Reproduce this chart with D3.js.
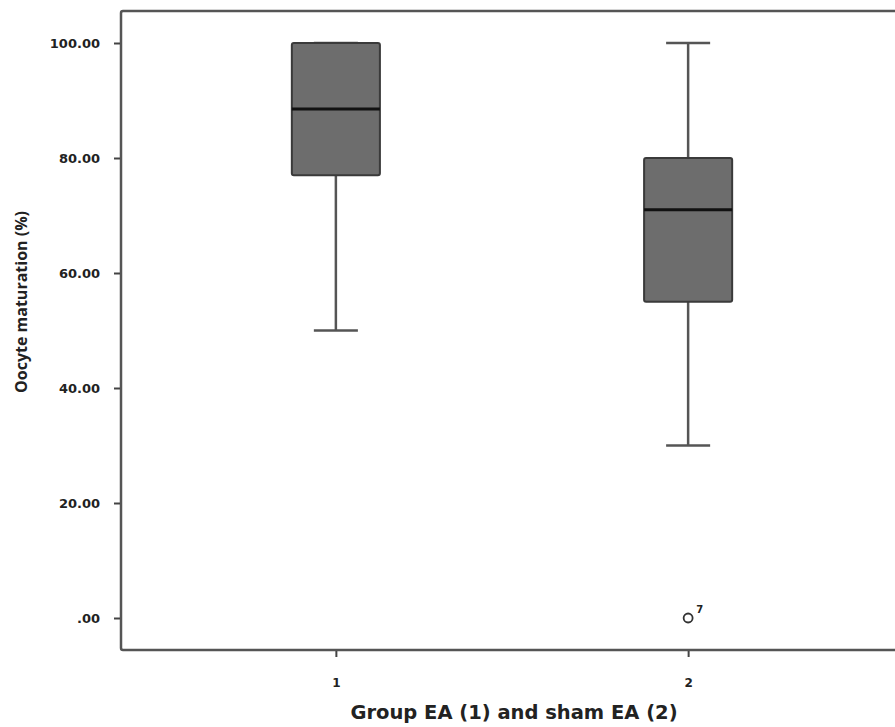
<!DOCTYPE html>
<html>
<head>
<meta charset="utf-8">
<script src="https://cdn.jsdelivr.net/npm/d3@7"></script>
<style>
  body { margin: 0; background: #fff; }
  svg { display: block; }
</style>
</head>
<body>
<div id="chart"></div>
<script>
// box plot values (percent)
var groups = ["1", "2"];
var whiskerLow = [50, 30];
var q1 = [77, 55];
var median = [88.5, 71];
var q3 = [100, 80];
var whiskerHigh = [100, 100];
var outlierGroup = ["2"];
var outlierValue = [0];
var outlierLabel = ["7"];
var yTicks = [0, 20, 40, 60, 80, 100];

var width = 895, height = 727;
var frame = {left: 121, right: 903, top: 11, bottom: 650};

var svg = d3.select("#chart").append("svg")
    .attr("width", width)
    .attr("height", height);

var x = d3.scalePoint()
    .domain(groups)
    .range([frame.left, frame.right])
    .padding(0.61);

var y = d3.scaleLinear()
    .domain([-5.565, 105.565])
    .range([frame.bottom, frame.top]);

var boxW = x.step() * 0.25;
var capW = boxW / 2;

// frame
svg.append("rect")
    .attr("x", frame.left)
    .attr("y", frame.top)
    .attr("width", frame.right - frame.left)
    .attr("height", frame.bottom - frame.top)
    .attr("rx", 2)
    .style("fill", "none")
    .style("stroke", "#555")
    .style("stroke-width", 2.5);

// y axis
var yAxis = d3.axisLeft(y)
    .tickValues(yTicks)
    .tickSize(6)
    .tickPadding(14)
    .tickFormat(function(d) { return d === 0 ? ".00" : d.toFixed(2); });

var gy = svg.append("g")
    .attr("transform", "translate(" + (frame.left - 1) + ",0)")
    .call(yAxis);
gy.select(".domain").remove();
gy.selectAll("line").style("stroke", "#444").style("stroke-width", 2);
gy.selectAll("text")
    .style("font-family", "DejaVu Sans")
    .style("font-weight", "bold")
    .style("font-size", "13px")
    .style("fill", "#222");

// x axis
var xAxis = d3.axisBottom(x).tickSize(6).tickPadding(21);
var gx = svg.append("g")
    .attr("transform", "translate(0," + (frame.bottom + 1) + ")")
    .call(xAxis);
gx.select(".domain").remove();
gx.selectAll("line").style("stroke", "#444").style("stroke-width", 2);
gx.selectAll("text")
    .style("font-family", "DejaVu Sans")
    .style("font-weight", "bold")
    .style("font-size", "12px")
    .style("fill", "#222");

// whiskers and boxes
var bx = svg.append("g").attr("class", "boxes");
groups.forEach(function(g, i) {
    var cx = x(g);
    bx.append("line")
        .attr("x1", cx).attr("x2", cx)
        .attr("y1", y(whiskerLow[i])).attr("y2", y(q1[i]))
        .style("stroke", "#555").style("stroke-width", 2.5);
    bx.append("line")
        .attr("x1", cx).attr("x2", cx)
        .attr("y1", y(whiskerHigh[i])).attr("y2", y(q3[i]))
        .style("stroke", "#555").style("stroke-width", 2.5);
    [whiskerLow[i], whiskerHigh[i]].forEach(function(v) {
        bx.append("line")
            .attr("x1", cx - capW / 2).attr("x2", cx + capW / 2)
            .attr("y1", y(v)).attr("y2", y(v))
            .style("stroke", "#555").style("stroke-width", 2.5);
    });
    bx.append("rect")
        .attr("x", cx - boxW / 2)
        .attr("y", y(q3[i]))
        .attr("width", boxW)
        .attr("height", y(q1[i]) - y(q3[i]))
        .attr("rx", 2)
        .style("fill", "#6d6d6d")
        .style("stroke", "#3a3a3a")
        .style("stroke-width", 2);
    bx.append("line")
        .attr("x1", cx - boxW / 2).attr("x2", cx + boxW / 2)
        .attr("y1", y(median[i])).attr("y2", y(median[i]))
        .style("stroke", "#111").style("stroke-width", 3);
});

// outliers
outlierGroup.forEach(function(g, i) {
    svg.append("circle")
        .attr("cx", x(g))
        .attr("cy", y(outlierValue[i]))
        .attr("r", 4.5)
        .style("fill", "none")
        .style("stroke", "#333")
        .style("stroke-width", 1.8);
    svg.append("text")
        .attr("x", x(g) + 8)
        .attr("y", y(outlierValue[i]) - 5)
        .text(outlierLabel[i])
        .style("font-family", "DejaVu Sans")
        .style("font-weight", "bold")
        .style("font-size", "10px")
        .style("fill", "#222");
});

// axis titles
svg.append("text")
    .attr("x", 514)
    .attr("y", 719)
    .attr("text-anchor", "middle")
    .text("Group EA (1) and sham EA (2)")
    .style("font-family", "DejaVu Sans")
    .style("font-weight", "bold")
    .style("font-size", "19.5px")
    .style("fill", "#222");

svg.append("text")
    .attr("transform", "translate(27,302) rotate(-90)")
    .attr("text-anchor", "middle")
    .text("Oocyte maturation (%)")
    .style("font-family", "Open Sans")
    .style("font-weight", "bold")
    .style("font-size", "16px")
    .style("fill", "#222");
</script>
</body>
</html>
